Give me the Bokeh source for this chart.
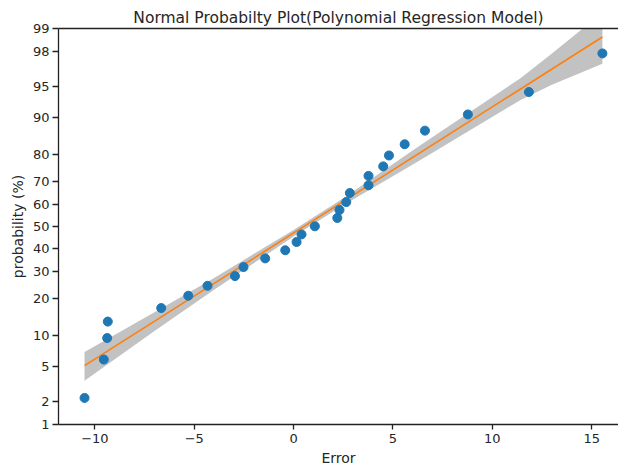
import math
from bokeh.plotting import figure
from bokeh.models import Range1d, FixedTicker, LinearAxis, ColumnDataSource
from bokeh.embed import file_html
from bokeh.resources import INLINE

# ---- data ----
error = [-10.52, -9.55, -9.38, -9.35, -6.66, -5.30, -4.33, -2.95, -2.52, -1.43,
         -0.42, 0.15, 0.40, 1.07, 2.20, 2.31, 2.65, 2.83, 3.77, 3.77,
         4.51, 4.80, 5.59, 6.61, 8.77, 11.84, 15.54]
prob_pct = [2.2, 5.9, 9.5, 13.2, 16.9, 20.8, 24.3, 28.0, 31.7, 35.4,
            39.0, 42.8, 46.3, 50.1, 54.0, 57.7, 61.3, 65.3, 68.6, 72.4,
            76.0, 79.8, 83.3, 87.0, 90.6, 94.3, 97.9]

fit_x = [-10.52, 15.54]
fit_pct = [5.1, 98.7]

band_x = [-10.52, -7.0, -4.0, 0.0, 2.5, 6.3, 11.4, 13.0, 15.54]
band_lo_pct = [3.5, 11.0, 22.9, 45.3, 59.9, 77.9, 93.1, 95.2, 97.2]
band_hi_pct = [7.0, 15.7, 27.3, 48.4, 63.0, 82.7, 95.9, 97.9, 99.4]

x_ticks = [-10, -5, 0, 5, 10, 15]
y_ticks_pct = [1, 2, 5, 10, 20, 30, 40, 50, 60, 70, 80, 90, 95, 98, 99]


def ppf(p):
    """Inverse standard normal CDF by bisection."""
    lo, hi = -10.0, 10.0
    for _ in range(200):
        mid = 0.5 * (lo + hi)
        if 0.5 * (1.0 + math.erf(mid / math.sqrt(2.0))) < p:
            lo = mid
        else:
            hi = mid
    return 0.5 * (lo + hi)


def z(pcts):
    return [ppf(v / 100.0) for v in pcts]


TEXT = "#262626"
LINE = "#222222"
FONT = "DejaVu Sans"

p = figure(width=618, height=468, output_backend="svg", toolbar_location=None,
           title="Normal Probabilty Plot(Polynomial Regression Model)",
           x_range=Range1d(-11.83, 16.35),
           y_range=Range1d(ppf(0.01), ppf(0.99)),
           min_border_left=58, min_border_right=0, min_border_top=28,
           min_border_bottom=10)

p.title.align = "center"
p.title.text_font = FONT
p.title.text_font_size = "15.5px"
p.title.text_font_style = "normal"
p.title.text_color = TEXT
p.title.standoff = 4

p.grid.visible = False
p.outline_line_color = None
p.background_fill_color = "white"
p.border_fill_color = "white"

# confidence band
p.varea(x=band_x, y1=z(band_lo_pct), y2=z(band_hi_pct), fill_color="#c2c2c2", fill_alpha=1.0)
# fit line
p.line(x=fit_x, y=z(fit_pct), line_color="#ff7f0e", line_width=1.6)
# points
src = ColumnDataSource(dict(x=error, y=z(prob_pct)))
p.scatter(x="x", y="y", source=src, size=9, fill_color="#1f77b4", line_color="#1f77b4")

# x axis
xa = p.xaxis[0]
xa.ticker = FixedTicker(ticks=x_ticks, minor_ticks=[])
xa.major_label_overrides = {t: (("\u2212" + str(abs(t))) if t < 0 else str(t)) for t in x_ticks}
xa.axis_label = "Error"

# y axis
ya = p.yaxis[0]
yt = z(y_ticks_pct)
ya.ticker = FixedTicker(ticks=yt, minor_ticks=[])
ya.major_label_overrides = {t: str(v) for t, v in zip(yt, y_ticks_pct)}
ya.axis_label = "probability (%)"

for ax in (xa, ya):
    ax.axis_line_color = LINE
    ax.axis_line_width = 1.3
    ax.major_tick_line_color = LINE
    ax.major_tick_line_width = 1.3
    ax.major_tick_in = 0
    ax.minor_tick_line_color = None
    ax.major_label_text_font = FONT
    ax.major_label_text_font_size = "13px"
    ax.major_label_text_color = TEXT
    ax.axis_label_text_font = FONT
    ax.axis_label_text_font_size = "14px"
    ax.axis_label_text_font_style = "normal"
    ax.axis_label_text_color = TEXT

xa.major_tick_out = 5
xa.major_label_standoff = 4
xa.axis_label_standoff = 4
ya.major_tick_out = 6
ya.major_label_standoff = 3
ya.axis_label_standoff = 4

# top spine
top = LinearAxis(ticker=FixedTicker(ticks=[], minor_ticks=[]))
top.axis_line_color = LINE
top.axis_line_width = 1.3
top.major_tick_line_color = None
top.minor_tick_line_color = None
top.major_label_text_font_size = "0px"
top.major_tick_out = 0
top.major_label_standoff = 0
p.add_layout(top, "above")

open("out.html", "w").write(file_html(p, INLINE))
